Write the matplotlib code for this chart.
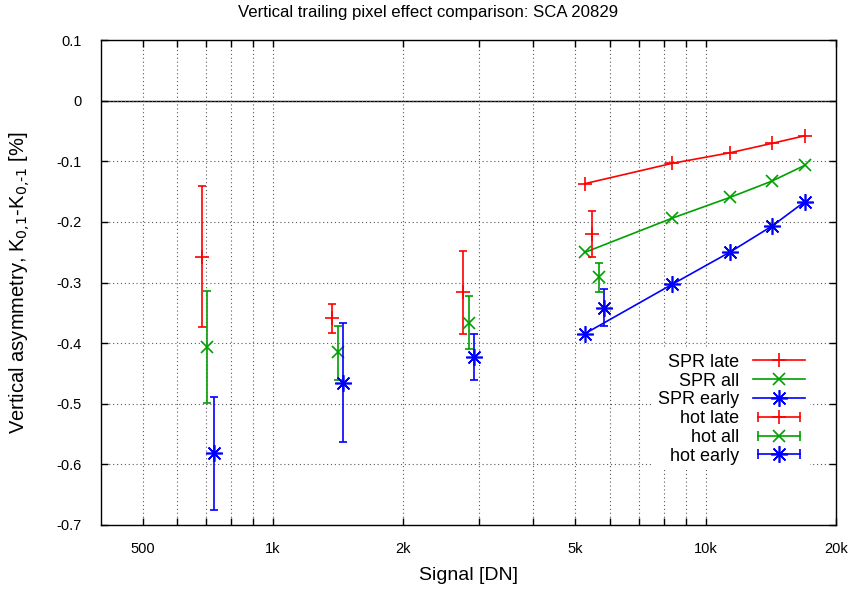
import matplotlib
matplotlib.use("Agg")
import matplotlib.pyplot as plt
import numpy as np
from matplotlib.lines import Line2D
from matplotlib.legend_handler import HandlerLine2D, HandlerTuple

plt.rcParams['font.family'] = ['Liberation Sans', 'DejaVu Sans']
plt.rcParams['font.size'] = 10.5

# SPR curves (signal in DN, asymmetry in %)
spr_signal = [5253, 8357, 11380, 14225, 16930]
spr_late = [-0.137, -0.1035, -0.086, -0.0705, -0.058]
spr_all = [-0.2504, -0.194, -0.1596, -0.1327, -0.1068]
spr_early = [-0.3846, -0.3032, -0.2498, -0.207, -0.1668]

# hot pixel points with error ranges
hot_late_x = [684, 1371, 2742, 5461]
hot_late_y = [-0.2576, -0.359, -0.316, -0.2207]
hot_late_lo = [-0.373, -0.383, -0.385, -0.2586]
hot_late_hi = [-0.140, -0.336, -0.248, -0.1816]

hot_all_x = [705, 1415, 2831, 5660]
hot_all_y = [-0.406, -0.414, -0.366, -0.2916]
hot_all_lo = [-0.4995, -0.46, -0.41, -0.316]
hot_all_hi = [-0.314, -0.371, -0.322, -0.2685]

hot_early_x = [730, 1454, 2907, 5813]
hot_early_y = [-0.582, -0.4655, -0.4236, -0.3417]
hot_early_lo = [-0.676, -0.563, -0.4616, -0.371]
hot_early_hi = [-0.489, -0.3665, -0.385, -0.311]

x_ticks = [500, 600, 700, 800, 900, 1000, 2000, 3000, 4000, 5000,
           6000, 7000, 8000, 9000, 10000, 20000]
x_labels = ["500", "", "", "", "", "1k", "2k", "", "", "5k",
            "", "", "", "", "10k", "20k"]
y_ticks = [0.1, 0, -0.1, -0.2, -0.3, -0.4, -0.5, -0.6, -0.7]
y_labels = ["0.1", "0", "-0.1", "-0.2", "-0.3", "-0.4", "-0.5", "-0.6", "-0.7"]

red = '#ff0000'
green = '#00a000'
blue = '#0000ff'
star = (8, 2, 0)

fig = plt.figure(figsize=(8.56, 5.93), dpi=100)
ax = fig.add_axes([100.7 / 856, 68 / 593, 735.3 / 856, 485 / 593])

ax.axhline(0, color='black', lw=1.0, zorder=1)

ax.plot(spr_signal, spr_late, color=red, marker='+', ms=10, mew=1.2, lw=1.2)
ax.plot(spr_signal, spr_all, color=green, marker='x', ms=9, mew=1.2, lw=1.2)
ax.plot(spr_signal, spr_early, color=blue, marker=star, ms=12, mew=1.2, lw=1.2)


def hot(x, y, lo, hi, color, marker, ms):
    y = np.array(y)
    err = [y - np.array(lo), np.array(hi) - y]
    ax.errorbar(x, y, yerr=err, fmt='none', ecolor=color, elinewidth=1.2,
                capsize=2.7, capthick=1.2)
    ax.plot(x, y, ls='none', color=color, marker=marker, ms=ms, mew=1.2)


hot(hot_late_x, hot_late_y, hot_late_lo, hot_late_hi, red, '+', 10)
hot(hot_all_x, hot_all_y, hot_all_lo, hot_all_hi, green, 'x', 9)
hot(hot_early_x, hot_early_y, hot_early_lo, hot_early_hi, blue, star, 12)

ax.set_xscale('log')
ax.set_xlim(400, 20000)
ax.set_ylim(-0.7, 0.1)
ax.xaxis.set_minor_locator(matplotlib.ticker.NullLocator())
ax.set_xticks(x_ticks)
ax.set_xticklabels(x_labels)
ax.set_yticks(y_ticks)
ax.set_yticklabels(y_labels)
ax.tick_params(direction='in', length=5, width=1, top=True, right=True,
               pad=12)
ax.tick_params(axis='y', pad=13.5)
ax.grid(True, color='0.35', ls=(0, (1, 2.5)), lw=0.8)
for s in ax.spines.values():
    s.set_linewidth(1.0)

fig.text(0.5, 1 - 12 / 593, "Vertical trailing pixel effect comparison: SCA 20829",
         fontsize=12.1, ha='center', va='center')
ax.set_xlabel("Signal [DN]", fontsize=14, labelpad=8)
ax.set_ylabel(r"Vertical asymmetry, K$_{\text{0,1}}$-K$_{\text{0,-1}}$ [%]",
              fontsize=14.5)
ax.yaxis.set_label_coords(-0.093, 0.5)

# legend handles
handles = []
hmap = {}
for c, m, ms in [(red, '+', 10), (green, 'x', 9), (blue, star, 12)]:
    handles.append(Line2D([], [], color=c, marker=m, ms=ms, mew=1.2, lw=1.2))
for c, m, ms in [(red, '+', 10), (green, 'x', 9), (blue, star, 12)]:
    caps = Line2D([], [], color=c, marker='|', ms=7, mew=1.2, lw=1.2)
    pt = Line2D([], [], color=c, marker=m, ms=ms, mew=1.2, ls='none')
    hmap[caps] = HandlerLine2D(numpoints=2)
    handles.append((caps, pt))
hmap[tuple] = HandlerTuple(ndivide=1, pad=0)
labels = ["SPR late", "SPR all", "SPR early", "hot late", "hot all", "hot early"]
leg = ax.legend(handles, labels, handler_map=hmap, loc='lower right',
                bbox_to_anchor=(0.9653, 0.113), markerfirst=False,
                fontsize=13, handlelength=2.9, handletextpad=0.75,
                labelspacing=0.1, frameon=True, fancybox=False,
                borderpad=0.3, borderaxespad=0)
leg.get_frame().set_facecolor('white')
leg.get_frame().set_edgecolor('none')
leg.get_frame().set_alpha(1)

fig.savefig("out.png", dpi=100)
